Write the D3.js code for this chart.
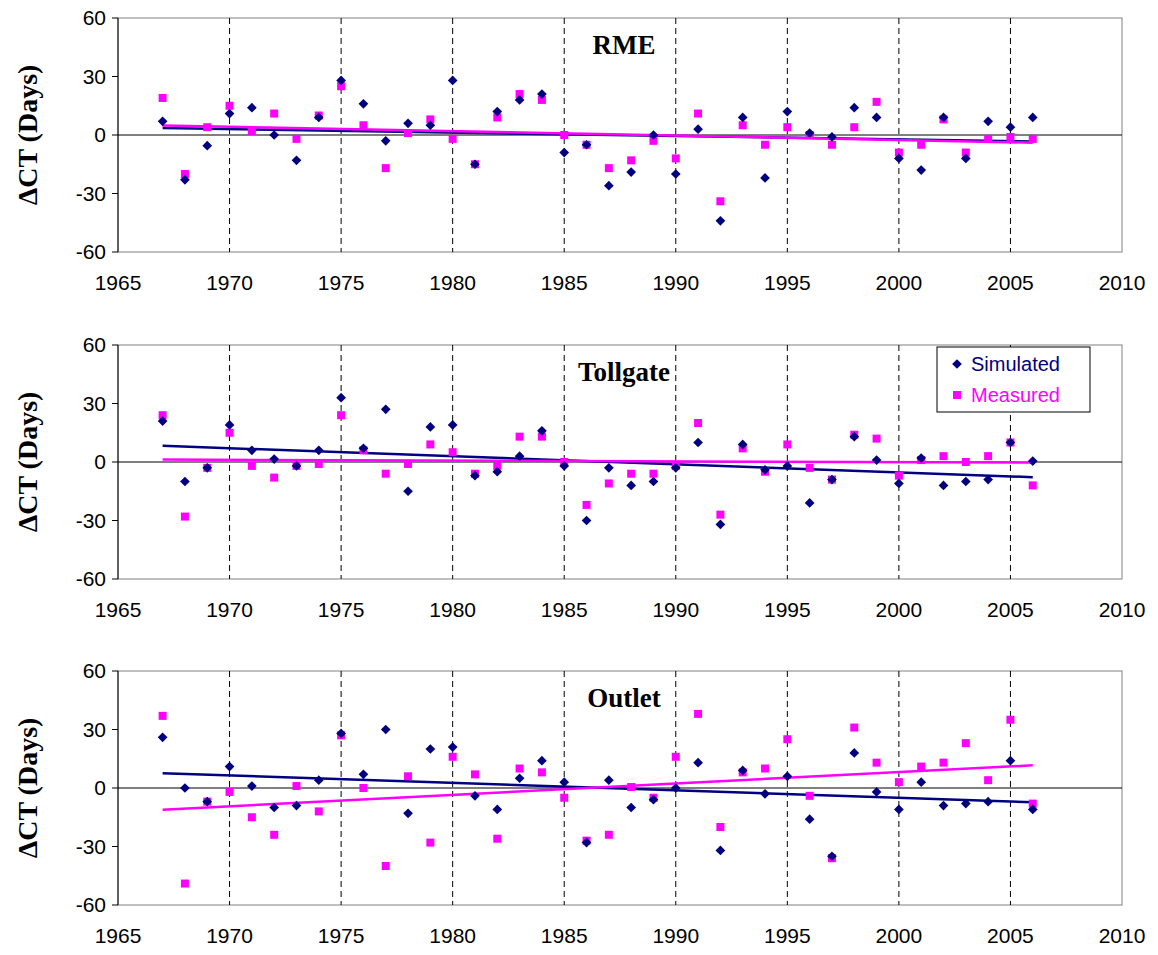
<!DOCTYPE html>
<html><head><meta charset="utf-8">
<script src="https://cdn.jsdelivr.net/npm/d3@7"></script>
<style>body{margin:0;background:#fff}</style>
</head><body>
<svg id="chart" width="1158" height="955"></svg>
<script>
var years = d3.range(1967, 2007);
var panelNames = ["RME", "Tollgate", "Outlet"];
var rmeSim  = [7,-23,-5.5,11,14,0,-13,9,28,16,-3,6,5,28,-15,12,18,21,-9,-5,-26,-19,0,-20,3,-44,9,-22,12,1,-1,14,9,-12,-18,9,-12,7,4,9];
var rmeMeas = [19,-20,4,15,2,11,-2,10,25,5,-17,1,8,-2,-15,9,21,18,0,-5,-17,-13,-3,-12,11,-34,5,-5,4,0,-5,4,17,-9,-5,8,-9,-2,-1,-2];
var tolSim  = [21,-10,-3,19,6,1.5,-2,6,33,7,27,-15,18,19,-7,-5,3,16,-2,-30,-3,-12,-10,-3,10,-32,9,-4,-2,-21,-9,13,1,-11,2,-12,-10,-9,10,0.5];
var tolMeas = [24,-28,-3,15,-2,-8,-2,-1,24,6,-6,-1,9,5,-6,-2,13,13,0,-22,-11,-6,-6,-2,20,-27,7,-5,9,-3,-9,14,12,-7,1,3,0,3,10,-12];
var outSim  = [26,0,-7,11,1,-10,-9,4,28,7,30,-13,20,21,-4,-11,5,14,3,-28,4,-10,-6,0,13,-32,9,-3,6,-16,-35,18,-2,-11,3,-9,-8,-7,14,-11];
var outMeas = [37,-49,-7,-2,-15,-24,1,-12,27,0,-40,6,-28,16,7,-26,10,8,-5,-27,-24,0.5,-5,16,38,-20,8,10,25,-4,-36,31,13,3,11,13,23,4,35,-8];
var xTicks = d3.range(1965, 2011, 5);
var yTicks = [-60, -30, 0, 30, 60];

var panels = [
  {name: panelNames[0], sim: rmeSim, meas: rmeMeas, top: 18},
  {name: panelNames[1], sim: tolSim, meas: tolMeas, top: 345},
  {name: panelNames[2], sim: outSim, meas: outMeas, top: 671}
];
var SIM = "#000080", MEAS = "#ff00ff";
var svg = d3.select("#chart");
var x = d3.scaleLinear().domain([1965, 2010]).range([118, 1122]);

function fit(vals) {
  var mx = d3.mean(years), my = d3.mean(vals);
  var b = d3.sum(years, function(d, i){ return (d - mx) * (vals[i] - my); }) /
          d3.sum(years, function(d){ return (d - mx) * (d - mx); });
  return function(t){ return my + b * (t - mx); };
}

panels.forEach(function(p, pi) {
  var y = d3.scaleLinear().domain([-60, 60]).range([p.top + 234, p.top]);
  var g = svg.append("g");
  g.append("rect").attr("x", 118).attr("y", p.top).attr("width", 1004).attr("height", 234)
    .attr("fill", "none").attr("stroke", "#808080");
  g.selectAll(".vg").data(xTicks.slice(1, -1)).enter().append("line")
    .attr("x1", x).attr("x2", x).attr("y1", p.top).attr("y2", p.top + 234)
    .attr("stroke", "#000").attr("stroke-dasharray", "6,4").attr("stroke-width", 1);
  g.append("line").attr("x1", 118).attr("x2", 1122).attr("y1", y(0)).attr("y2", y(0)).attr("stroke", "#000");
  g.append("line").attr("x1", 118).attr("x2", 118).attr("y1", p.top).attr("y2", p.top + 234).attr("stroke", "#000");
  g.selectAll(".yt").data(yTicks).enter().append("line")
    .attr("x1", 112).attr("x2", 118).attr("y1", y).attr("y2", y).attr("stroke", "#000");
  g.selectAll(".yl").data(yTicks).enter().append("text")
    .attr("x", 106).attr("y", function(d){ return y(d) + 7; }).attr("text-anchor", "end")
    .attr("font-family", "Arial, Liberation Sans").attr("font-size", 21).text(function(d){ return d; });
  g.selectAll(".xl").data(xTicks).enter().append("text")
    .attr("x", x).attr("y", p.top + 272).attr("text-anchor", "middle")
    .attr("font-family", "Arial, Liberation Sans").attr("font-size", 21).text(function(d){ return d; });
  g.append("text").attr("transform", "translate(37," + (p.top + 117) + ") rotate(-90)")
    .attr("text-anchor", "middle").attr("font-family", "Times New Roman, Liberation Serif")
    .attr("font-weight", "bold").attr("font-size", 28).text("ΔCT (Days)");
  g.append("text").attr("x", 624).attr("y", p.top + 36).attr("text-anchor", "middle")
    .attr("font-family", "Times New Roman, Liberation Serif").attr("font-weight", "bold")
    .attr("font-size", 27).text(p.name);

  [[p.sim, SIM], [p.meas, MEAS]].forEach(function(s) {
    var f = fit(s[0]);
    g.append("line").attr("x1", x(1967)).attr("x2", x(2006))
      .attr("y1", y(f(1967))).attr("y2", y(f(2006))).attr("stroke", s[1]).attr("stroke-width", 2.5);
  });
  g.selectAll(".m").data(p.meas).enter().append("rect")
    .attr("x", function(d, i){ return x(years[i]) - 4; }).attr("y", function(d){ return y(d) - 4; })
    .attr("width", 8).attr("height", 8).attr("fill", MEAS);
  g.selectAll(".s").data(p.sim).enter().append("path")
    .attr("d", d3.symbol(d3.symbolDiamond2, 60))
    .attr("transform", function(d, i){ return "translate(" + x(years[i]) + "," + y(d) + ")"; })
    .attr("fill", SIM);

  if (pi === 1) {
    var lg = g.append("g").attr("transform", "translate(937,347)");
    lg.append("rect").attr("width", 153).attr("height", 65).attr("fill", "#fff").attr("stroke", "#000");
    lg.append("path").attr("d", d3.symbol(d3.symbolDiamond2, 60)).attr("transform", "translate(20,17)").attr("fill", SIM);
    lg.append("text").attr("x", 34).attr("y", 24).attr("font-family", "Arial, Liberation Sans")
      .attr("font-size", 20).attr("fill", SIM).text("Simulated");
    lg.append("rect").attr("x", 16).attr("y", 44).attr("width", 8).attr("height", 8).attr("fill", MEAS);
    lg.append("text").attr("x", 34).attr("y", 55).attr("font-family", "Arial, Liberation Sans")
      .attr("font-size", 20).attr("fill", MEAS).text("Measured");
  }
});
</script>
</body></html>
